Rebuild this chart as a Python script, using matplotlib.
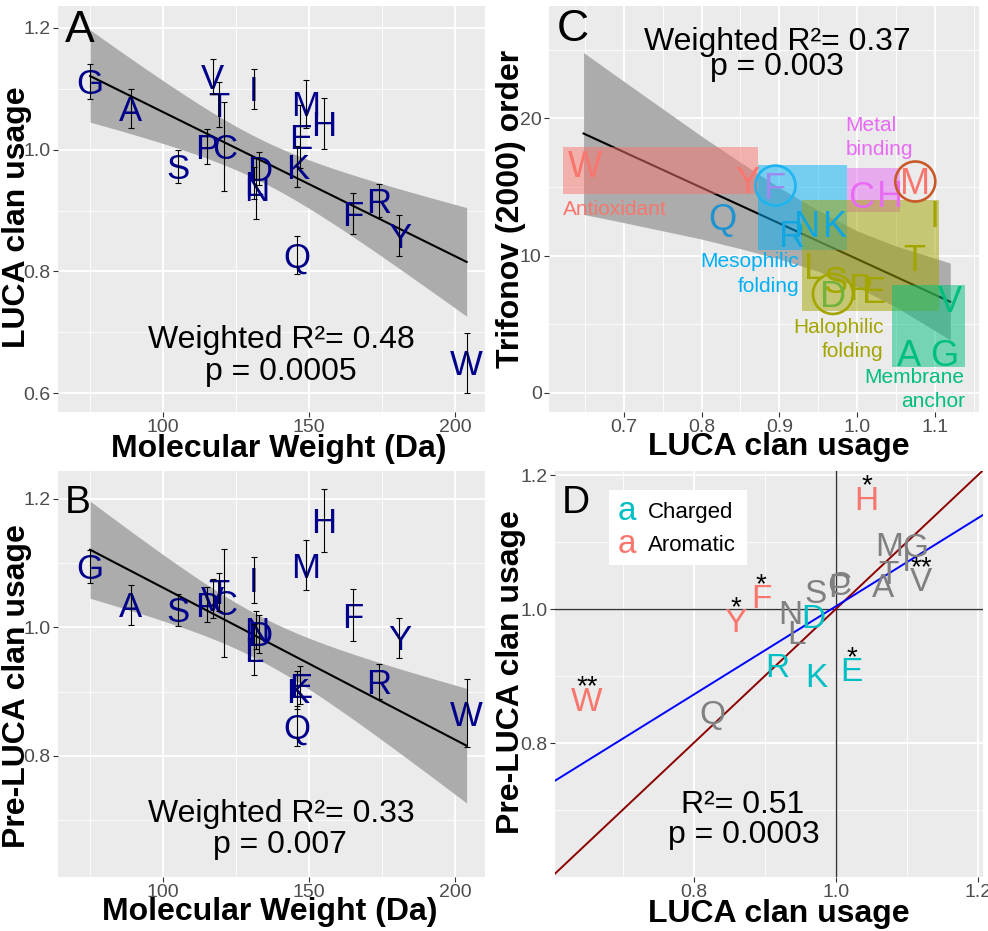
import numpy as np
import matplotlib
matplotlib.use("Agg")
import matplotlib.pyplot as plt
from matplotlib import transforms
from matplotlib.patches import Rectangle
from matplotlib.ticker import FixedLocator, FormatStrFormatter

plt.rcParams['font.family'] = ['Liberation Sans', 'DejaVu Sans']

# amino acids and values
aa = ['G', 'A', 'S', 'P', 'V', 'T', 'C', 'L', 'I', 'N',
      'D', 'Q', 'K', 'E', 'M', 'H', 'F', 'R', 'Y', 'W']
mw = [75, 89, 105, 115, 117, 119, 121, 131, 131, 132,
      133, 146, 146, 147, 149, 155, 165, 174, 181, 204]
luca = [1.112, 1.067, 0.972, 1.005, 1.120, 1.074, 1.005, 0.945, 1.100, 0.936,
        0.969, 0.827, 0.972, 1.022, 1.075, 1.043, 0.895, 0.917, 0.859, 0.650]
luca_err = [0.029, 0.032, 0.027, 0.029, 0.029, 0.037, 0.073, 0.026, 0.033, 0.05,
            0.027, 0.031, 0.034, 0.052, 0.040, 0.042, 0.033, 0.027, 0.034, 0.049]
pre = [1.095, 1.035, 1.027, 1.036, 1.045, 1.055, 1.038, 0.965, 1.074, 0.996,
       0.990, 0.846, 0.902, 0.910, 1.097, 1.166, 1.019, 0.916, 0.984, 0.866]
pre_err = [0.026, 0.031, 0.025, 0.027, 0.030, 0.030, 0.084, 0.040, 0.036, 0.030,
           0.030, 0.031, 0.030, 0.030, 0.039, 0.049, 0.040, 0.027, 0.031, 0.053]
trifonov = [2.9, 2.9, 8.2, 7.7, 6.8, 9.8, 14.4, 9.2, 13.0, 12.3,
            7.2, 12.8, 12.3, 7.5, 15.4, 14.5, 15.1, 11.6, 15.5, 16.7]

# panel C: fitted line and its confidence band
c_fit_x = [0.648, 1.12]
c_fit_y = [18.9, 6.63]
c_band_x = [0.648, 0.70, 0.75, 0.80, 0.85, 0.90, 0.95, 1.00, 1.05, 1.12]
c_band_hi = [24.8, 22.7, 20.7, 18.7, 16.8, 14.95, 13.3, 11.8, 10.7, 9.45]
c_band_lo = [13.0, 12.4, 11.8, 11.2, 10.5, 9.75, 8.85, 7.7, 6.25, 3.85]

# panel C groups
grp_names = ['Antioxidant', 'Mesophilic\nfolding', 'Metal\nbinding', 'Halophilic\nfolding', 'Membrane\nanchor']
grp_cols = ['#F8766D', '#00B0F6', '#E76BF3', '#A3A500', '#00BF7D']
grp_x0 = [0.622, 0.873, 0.987, 0.929, 1.045]
grp_x1 = [0.873, 0.987, 1.055, 1.105, 1.139]
grp_y0 = [14.5, 10.4, 13.2, 5.95, 1.9]
grp_y1 = [17.9, 16.6, 16.35, 14.05, 7.85]
c_letter_col = {'W': '#F8766D', 'Y': '#F8766D', 'F': '#9C8AF0', 'M': '#F8766D',
                'Q': '#1F93CF', 'R': '#12A6DE', 'N': '#12A6DE', 'K': '#12A6DE',
                'C': '#E76BF3', 'H': '#E76BF3',
                'I': '#A3A500', 'T': '#A3A500', 'L': '#A3A500', 'S': '#A3A500',
                'P': '#A3A500', 'E': '#A3A500', 'D': '#72B23A',
                'V': '#00BF7D', 'A': '#00BF7D', 'G': '#00BF7D'}
circled = ['F', 'M', 'D']
circle_cols = ['#1EB4F0', '#C95A28', '#A3A500']

# panel D categories and the blue fit (slope, intercept)
charged = ['R', 'K', 'E', 'D']
aromatic = ['H', 'F', 'Y', 'W']
stars = {'H': '*', 'F': '*', 'Y': '*', 'E': '*', 'W': '**', 'V': '**'}
d_fit = (0.659, 0.345)

BAND = '#ACACAC'

W, H = 988, 931
fig = plt.figure(figsize=(W / 100, H / 100), dpi=100)


def fx(px):
    return px / W


def fy(py):
    return 1 - py / H


def make_ax(l, t, r, b):
    ax = fig.add_axes([fx(l), fy(b), (r - l) / W, (b - t) / H])
    ax.set_facecolor('#EBEBEB')
    for s in ax.spines.values():
        s.set_visible(False)
    ax.tick_params(which='major', length=3.8, width=0.8, color='#333333',
                   labelsize=14, labelcolor='#4D4D4D', pad=1.5)
    ax.tick_params(which='minor', length=0)
    ax.grid(which='major', color='white', lw=1.3)
    ax.grid(which='minor', color='white', lw=0.6)
    ax.set_axisbelow(True)
    return ax


def letter(ax, x, y, s, fs, color, k=0.358, **kw):
    # shift down so the capital's middle sits on the value
    tr = transforms.offset_copy(ax.transData, fig=fig, y=-k * fs, units='points')
    ax.text(x, y, s, fontsize=fs, color=color, ha='center', va='baseline',
            transform=tr, **kw)


def wfit(x, y, w, ax, n=100):
    # weighted linear fit with 95% band, like geom_smooth(method="lm")
    x = np.asarray(x, float)
    y = np.asarray(y, float)
    w = np.asarray(w, float)
    X = np.column_stack([np.ones_like(x), x])
    XtW = X.T * w
    A = np.linalg.inv(XtW @ X)
    beta = A @ XtW @ y
    r = y - X @ beta
    s2 = np.sum(w * r ** 2) / (len(x) - 2)
    xs = np.linspace(x.min(), x.max(), n)
    Xs = np.column_stack([np.ones_like(xs), xs])
    fit = Xs @ beta
    se = np.sqrt(np.einsum('ij,jk,ik->i', Xs, A * s2, Xs))
    t = 2.1009
    ax.fill_between(xs, fit - t * se, fit + t * se, color=BAND, lw=0, zorder=1)
    ax.plot(xs, fit, color='black', lw=1.5, zorder=2)


def mw_panel(ax, yv, yerr, ylim, yticks):
    # the smoother in both panels is the LUCA fit
    wfit(mw, luca, 1 / np.asarray(luca_err) ** 2, ax)
    for i, a in enumerate(aa):
        letter(ax, mw[i], yv[i], a, 25, '#00008B', zorder=3)
    ax.errorbar(mw, yv, yerr=yerr, fmt='none', ecolor='black', elinewidth=0.8,
                capsize=2.5, capthick=0.8, zorder=4)
    ax.set_xlim(64, 210.3)
    ax.set_ylim(*ylim)
    ax.xaxis.set_major_locator(FixedLocator([100, 150, 200]))
    ax.xaxis.set_minor_locator(FixedLocator([75, 125, 175]))
    ax.yaxis.set_major_locator(FixedLocator(yticks))
    ax.yaxis.set_minor_locator(FixedLocator([0.7, 0.9, 1.1]))
    ax.yaxis.set_major_formatter(FormatStrFormatter('%.1f'))


# ---- A ----
axA = make_ax(58, 6, 485, 412)
mw_panel(axA, luca, luca_err, (0.569, 1.236), [0.6, 0.8, 1.0, 1.2])

# ---- B ----
axB = make_ax(58, 471, 485, 877)
mw_panel(axB, pre, pre_err, (0.611, 1.2436), [0.8, 1.0, 1.2])

# ---- C ----
axC = make_ax(549, 6, 979, 412)
axC.fill_between(c_band_x, c_band_lo, c_band_hi, color=BAND, lw=0, zorder=1)
axC.plot(c_fit_x, c_fit_y, color='black', lw=1.5, zorder=2)
for i in range(len(grp_names)):
    axC.add_patch(Rectangle((grp_x0[i], grp_y0[i]), grp_x1[i] - grp_x0[i],
                            grp_y1[i] - grp_y0[i], color=grp_cols[i],
                            alpha=0.5, lw=0, zorder=3))
for i, a in enumerate(aa):
    letter(axC, luca[i], trifonov[i], a, 26, c_letter_col[a], zorder=4)
for a, c in zip(circled, circle_cols):
    i = aa.index(a)
    axC.scatter(luca[i], trifonov[i], s=830, facecolors='none', edgecolors=c,
                linewidths=1.9, zorder=5)
axC.set_xlim(0.6035, 1.157)
axC.set_ylim(-1.41, 28.2)
axC.xaxis.set_major_locator(FixedLocator([0.7, 0.8, 0.9, 1.0, 1.1]))
axC.xaxis.set_minor_locator(FixedLocator([0.65, 0.75, 0.85, 0.95, 1.05, 1.15]))
axC.yaxis.set_major_locator(FixedLocator([0, 10, 20]))
axC.yaxis.set_minor_locator(FixedLocator([5, 15, 25]))
axC.xaxis.set_major_formatter(FormatStrFormatter('%.1f'))

# group labels (pixel layout)
lab_pos = [(563, [215], 'left'), (799, [266.7, 291.7], 'right'),
           (845.7, [130.7, 155], 'left'), (883.3, [333.3, 357.3], 'right'),
           (964.7, [382.7, 407.3], 'right')]
for (px, bls, ha), name, col in zip(lab_pos, grp_names, grp_cols):
    for line, bl in zip(name.split('\n'), bls):
        fig.text(fx(px), fy(bl), line, fontsize=15, color=col, ha=ha, va='baseline')

# ---- D ----
axD = make_ax(555, 471, 983, 877)
axD.axhline(1.0, color='#333333', lw=1.0, zorder=1.5)
axD.axvline(1.0, color='#333333', lw=1.0, zorder=1.5)
axD.axline((1.0, 1.0), slope=1.0, color='#8B0000', lw=1.4, zorder=2)
axD.axline((0.0, d_fit[1]), slope=d_fit[0], color='#0000FF', lw=1.4, zorder=2)
for i, a in enumerate(aa):
    if a in charged:
        col = '#00BFC4'
    elif a in aromatic:
        col = '#F8766D'
    else:
        col = '#808080'
    letter(axD, luca[i], pre[i], a, 24, col, zorder=3)
    if a in stars:
        letter(axD, luca[i], pre[i] + 0.031, stars[a], 20, 'black', k=0.6, zorder=4)
axD.set_xlim(0.605, 1.207)
axD.set_ylim(0.6, 1.206)
for axis in (axD.xaxis, axD.yaxis):
    axis.set_major_locator(FixedLocator([0.8, 1.0, 1.2]))
    axis.set_minor_locator(FixedLocator([0.7, 0.9, 1.1]))
    axis.set_major_formatter(FormatStrFormatter('%.1f'))

# legend in D
axD.add_patch(Rectangle((0.126, 0.768), 0.323, 0.185, transform=axD.transAxes,
                        facecolor='white', edgecolor='none', zorder=5))
fig.text(fx(626.7), fy(520), 'a', fontsize=24, color='#00BFC4', ha='center', va='baseline', zorder=6)
fig.text(fx(626.7), fy(553), 'a', fontsize=24, color='#F8766D', ha='center', va='baseline', zorder=6)
fig.text(fx(648), fy(518), 'Charged', fontsize=16, color='black', ha='left', va='baseline', zorder=6)
fig.text(fx(648), fy(551), 'Aromatic', fontsize=16, color='black', ha='left', va='baseline', zorder=6)

# panel letters
for px, py, s in [(65, 42, 'A'), (557, 40.7, 'C'), (65, 512.7, 'B'), (562, 513.3, 'D')]:
    fig.text(fx(px), fy(py), s, fontsize=32 if s in 'AC' else 28, ha='left', va='baseline')

# statistics text
stats = [(281, 348, 'Weighted R²= 0.48'), (281, 380, 'p = 0.0005'),
         (281, 822.3, 'Weighted R²= 0.33'), (280, 853.3, 'p = 0.007'),
         (777.3, 50, 'Weighted R²= 0.37'), (777.3, 75, 'p = 0.003'),
         (743, 813.3, 'R²= 0.51'), (744, 843.3, 'p = 0.0003')]
for px, py, s in stats:
    fig.text(fx(px), fy(py), s, fontsize=23, ha='center', va='baseline')

# axis titles
fig.text(fx(279), fy(457), 'Molecular Weight (Da)', fontsize=23, fontweight='bold',
         ha='center', va='baseline')
fig.text(fx(270), fy(920), 'Molecular Weight (Da)', fontsize=23, fontweight='bold',
         ha='center', va='baseline')
fig.text(fx(778.5), fy(455), 'LUCA clan usage', fontsize=23, fontweight='bold',
         ha='center', va='baseline')
fig.text(fx(778.5), fy(922), 'LUCA clan usage', fontsize=23, fontweight='bold',
         ha='center', va='baseline')
for px, py, s in [(25, 217, 'LUCA clan usage'), (519, 209, 'Trifonov (2000) order'),
                  (25, 686, 'Pre-LUCA clan usage'), (519, 672, 'Pre-LUCA clan usage')]:
    fig.text(fx(px), fy(py), s, fontsize=23, fontweight='bold', rotation=90,
             rotation_mode='anchor', ha='center', va='baseline')

fig.savefig('out.png', dpi=100)
